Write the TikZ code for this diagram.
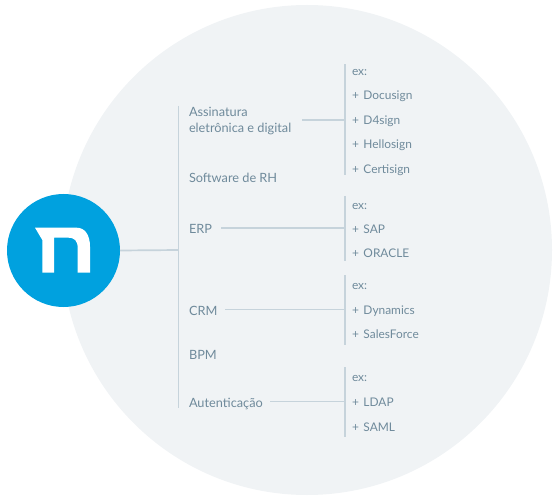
\documentclass[tikz,border=0pt]{standalone}
\usepackage{fontspec}
\setmainfont{Lato}
\definecolor{bgc}{HTML}{F0F3F5}
\definecolor{hubc}{HTML}{00A1DF}
\definecolor{linec}{HTML}{C6D3DB}
\definecolor{textc}{HTML}{6F8A9B}
\tikzset{
  lab/.style={anchor=base west,inner sep=0pt,outer sep=0pt,text=textc,font=\fontsize{12.75}{16}\selectfont},
  item/.style={anchor=base west,inner sep=0pt,outer sep=0pt,text=textc,font=\fontsize{11.9}{14}\selectfont},
  bar/.style={draw=linec,line width=1.8pt},
  conn/.style={draw=linec,line width=1.7pt}
}
\newcommand{\plusitem}[3]{\node[item] (#1) at (352,#2) {+\hspace{4.6pt}#3};}
\begin{document}
\begin{tikzpicture}[x=1pt,y=-1pt]
\useasboundingbox (0,0) rectangle (560,500);
\fill[bgc] (307,250) circle[radius=245];
% hub
\node[circle,fill=hubc,minimum size=113pt,inner sep=0pt,outer sep=0pt] (hub) at (63.5,250.5) {};
\fill[white] (35,227.7) -- (76.7,227.7) .. controls (85,227.7) and (90,235) .. (90,246.7)
  -- (90,272.7) -- (77.7,272.7) -- (77.7,248.3) .. controls (77.7,241) and (75,237.7) .. (68,237.7)
  -- (54,237.7) -- (54,272.7) -- (42.3,272.7) -- (42.3,240) -- cycle;
% labels
\node[lab] (assin) at (189,116.5) {Assinatura};
\node[lab] (eletr) at (189,132.5) {eletrônica e digital};
\node[lab] (soft) at (189,183) {Software de RH};
\node[lab] (erp) at (189,233.5) {ERP};
\node[lab] (crm) at (189,315.5) {CRM};
\node[lab] (bpm) at (189,359) {BPM};
\node[lab] (aut) at (189,407.5) {Autenticação};
% items
\node[item] (ex1) at (352,75.5) {ex:};
\plusitem{docu}{100}{Docusign}
\plusitem{d4}{124.5}{D4sign}
\plusitem{hello}{149}{Hellosign}
\plusitem{certi}{173.5}{Certisign}
\node[item] (ex2) at (352,209) {ex:};
\plusitem{sap}{233.5}{SAP}
\plusitem{oracle}{258}{ORACLE}
\node[item] (ex3) at (352,289.5) {ex:};
\plusitem{dyn}{314}{Dynamics}
\plusitem{sales}{338.5}{SalesForce}
\node[item] (ex4) at (352,381.5) {ex:};
\plusitem{ldap}{406}{LDAP}
\plusitem{saml}{431}{SAML}
% trunk
\coordinate (ttop) at (178.5,106);
\coordinate (tbot) at (178.5,408);
\coordinate (tmid) at (178.5,250);
\draw[bar] (ttop) -- (tbot);
\draw[conn] (hub.east) -- (tmid);
% bars
\coordinate (b1t) at (345,64.5); \coordinate (b1b) at (345,175);
\coordinate (b2t) at (345,196); \coordinate (b2b) at (345,261);
\coordinate (b3t) at (345,275); \coordinate (b3b) at (345,345);
\coordinate (b4t) at (345,367); \coordinate (b4b) at (345,437);
\draw[bar] (b1t) -- (b1b);
\draw[bar] (b2t) -- (b2b);
\draw[bar] (b3t) -- (b3b);
\draw[bar] (b4t) -- (b4b);
% branches
\coordinate (h1) at (302,120); \coordinate (e1) at (345,120);
\coordinate (h2) at (221,228); \coordinate (e2) at (345,228);
\coordinate (h3) at (225,309.5); \coordinate (e3) at (345,309.5);
\coordinate (h4) at (270,401.5); \coordinate (e4) at (345,401.5);
\draw[conn] (h1) -- (e1);
\draw[conn] (h2) -- (e2);
\draw[conn] (h3) -- (e3);
\draw[conn] (h4) -- (e4);
\end{tikzpicture}
\end{document}
